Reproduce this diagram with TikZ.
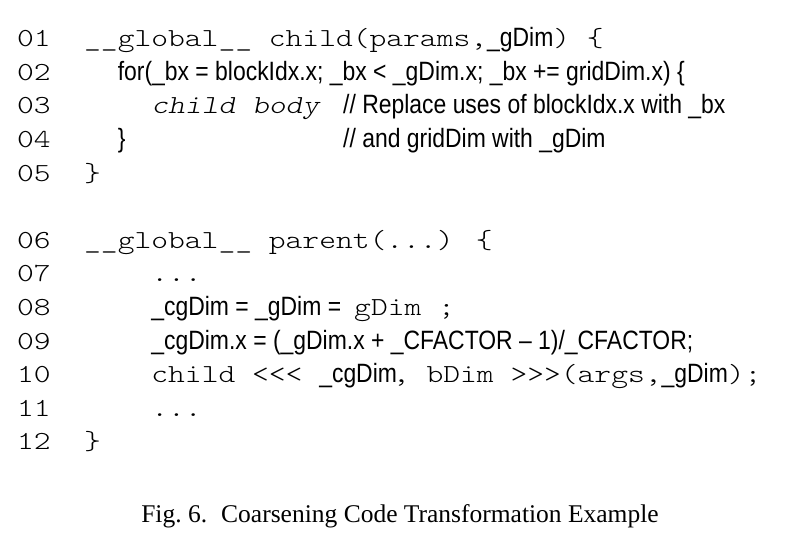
\documentclass[tikz,border=0pt]{standalone}
\usepackage{fontspec}
\setmainfont{Liberation Serif}
\newfontfamily\listingmono{lmmonolt10-regular.otf}[ItalicFont=lmmonolt10-oblique.otf,FakeStretch=1.23]
\newfontfamily\listingsans[FakeStretch=0.865]{Liberation Sans}
\newcommand{\cmono}{\listingmono\fontsize{26}{26}\selectfont}
\newcommand{\csans}{\listingsans\fontsize{26.5}{26.5}\selectfont}

\begin{document}
\begin{tikzpicture}[x=1pt,y=-1pt,
    num/.style={anchor=base west,inner sep=0pt,font=\cmono},
    code/.style={anchor=base west,inner sep=0pt},
  ]
  \useasboundingbox (0,0) rectangle (800,538);

  \node[num] (n01) at (16.8,46.7) {01};
  \node[num] (n02) at (16.8,80.3) {02};
  \node[num] (n03) at (16.8,113.9) {03};
  \node[num] (n04) at (16.8,147.5) {04};
  \node[num] (n05) at (16.8,181.1) {05};
  \node[num] (n06) at (16.8,248.3) {06};
  \node[num] (n07) at (16.8,281.9) {07};
  \node[num] (n08) at (16.8,315.5) {08};
  \node[num] (n09) at (16.8,349.1) {09};
  \node[num] (n10) at (16.8,382.7) {10};
  \node[num] (n11) at (16.8,416.3) {11};
  \node[num] (n12) at (16.8,449.9) {12};

  \node[code] (l01) at (84,46.7) {{\cmono \_\_global\_\_ child(params,}{\csans \_gDim}{\cmono ) \{}};
  \node[code] (l02) at (117.6,80.3) {\csans for(\_bx = blockIdx.x; \_bx < \_gDim.x; \_bx += gridDim.x) \{};
  \node[code] (l03) at (151.2,113.9) {\cmono\itshape child body};
  \node[code] (c03) at (343,113.9) {\csans // Replace uses of blockIdx.x with \_bx};
  \node[code] (l04) at (117.6,147.5) {\csans \}};
  \node[code] (c04) at (343,147.5) {\csans // and gridDim with \_gDim};
  \node[code] (l05) at (84,181.1) {\cmono \}};

  \node[code] (l06) at (84,248.3) {\cmono \_\_global\_\_ parent(...) \{};
  \node[code] (l07) at (151.2,281.9) {\cmono ...};
  \node[code] (l08) at (151.2,315.5) {{\csans \_cgDim = \_gDim =}\hspace{13pt}{\cmono gDim ;}};
  \node[code] (l09) at (151.2,349.1) {\csans \_cgDim.x = (\_gDim.x + \_CFACTOR \textendash{} 1)/\_CFACTOR;};
  \node[code] (l10) at (151.2,382.7) {{\cmono child <\kern0pt<\kern0pt< }{\csans \_cgDim}\kern-4pt{\cmono , bDim >\kern0pt>\kern0pt>(args,}{\csans \_gDim}{\cmono );}};
  \node[code] (l11) at (151.2,416.3) {\cmono ...};
  \node[code] (l12) at (84,449.9) {\cmono \}};

  \node[anchor=base,inner sep=0pt,font=\fontsize{25.5}{25.5}\selectfont] (cap) at (400,522) {Fig.~6.\hspace{0.55em}Coarsening Code Transformation Example};
\end{tikzpicture}
\end{document}
